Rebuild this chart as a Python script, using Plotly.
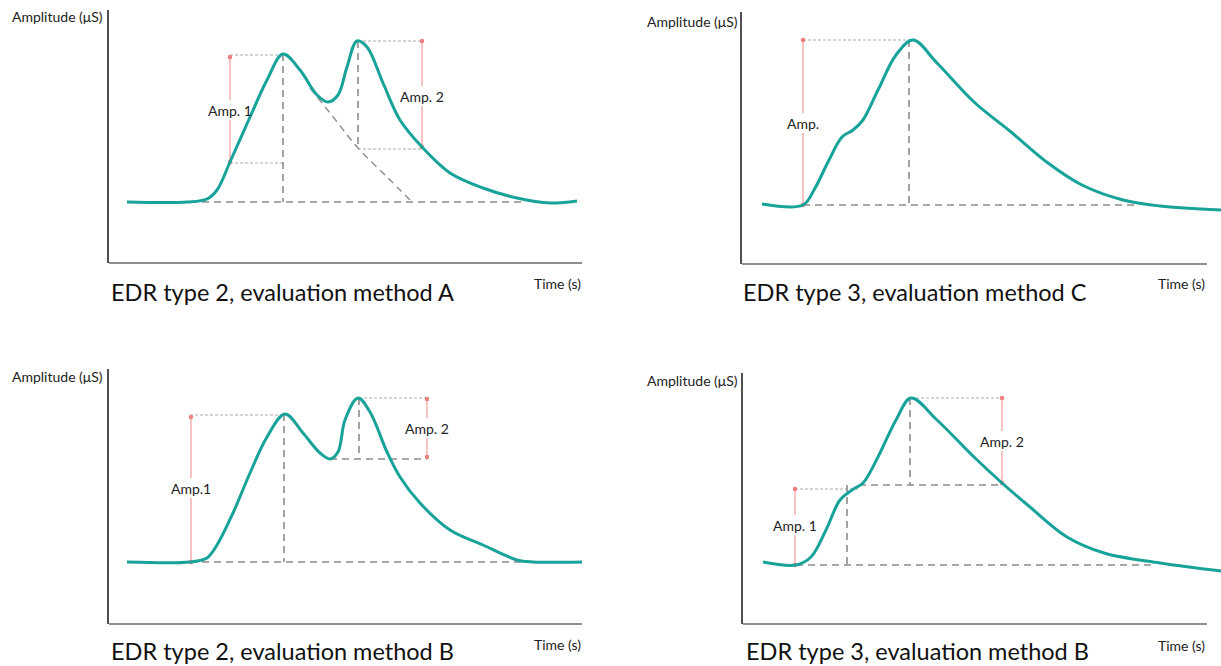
import plotly.graph_objects as go

# ---------------- data (panel-local units: time, amplitude) ----------------
# Panel 1: EDR type 2, method A
T1 = [18, 78, 98, 108, 121, 141, 158, 174, 191, 208, 219, 229, 238, 248, 258, 274, 291, 313, 341, 374, 408, 441, 468]
A1 = [61, 61, 64, 73, 101, 146, 183, 209, 193, 168, 161, 168, 196, 222, 216, 180, 143, 116, 90, 75, 65, 60, 62]
# Panel 2: EDR type 3, method C
T2 = [20, 61, 72, 87, 100, 111, 121, 136, 154, 171, 195, 232, 269, 306, 340, 381, 418, 479]
A2 = [60, 59, 74, 104, 127, 134, 144, 174, 209, 224, 201, 162, 132, 101, 79, 64, 58, 54]
# Panel 3: EDR type 2, method B
T3 = [18, 81, 98, 108, 124, 141, 158, 176, 194, 211, 221, 229, 236, 249, 261, 278, 291, 311, 341, 374, 408, 424, 473]
A3 = [62, 62, 66, 79, 111, 151, 187, 210, 191, 171, 165, 172, 204, 226, 212, 172, 147, 121, 94, 79, 64, 62, 62]
# Panel 4: EDR type 3, method B
T4 = [20, 53, 68, 83, 97, 109, 120, 135, 153, 168, 194, 231, 259, 287, 324, 361, 417, 478]
A4 = [62, 59, 67, 94, 124, 134, 141, 167, 204, 226, 204, 167, 141, 117, 87, 71, 61, 53]

# guide segments (t0, a0, t1, a1)
DASH1 = [(81, 61, 413, 61), (174, 209, 174, 61), (249, 222, 249, 114)]
DIAG1_T = [201, 225, 249, 278, 301]
DIAG1_A = [175, 145, 115, 86, 63]
DOT1 = [(121, 208, 174, 208), (121, 100, 174, 100), (249, 222, 313, 222), (249, 114, 313, 114)]
# amplitude bars: (t, a_top, a_bottom, a_label, label)
AMP1 = [(121, 206, 101, 153, "Amp. 1"), (313, 222, 116, 167, "Amp. 2")]

DASH2 = [(61, 59, 397, 59), (167, 224, 167, 59)]
DOT2 = [(61, 224, 171, 224)]
AMP2 = [(61, 224, 59, 141, "Amp.")]

DASH3 = [(81, 62, 431, 62), (175, 210, 175, 62), (250, 226, 250, 165), (221, 165, 318, 165)]
DOT3 = [(81, 209, 176, 209), (250, 226, 318, 226)]
AMP3 = [(82, 207, 62, 136, "Amp.1"), (318, 225, 167, 196, "Amp. 2")]

DASH4 = [(53, 59, 411, 59), (104, 139, 104, 59), (116, 139, 259, 139), (167, 226, 167, 139)]
DOT4 = [(52, 135, 116, 135), (168, 226, 259, 226)]
AMP4 = [(52, 135, 59, 99, "Amp. 1"), (259, 226, 141, 183, "Amp. 2")]

TITLES = ["EDR type 2, evaluation method A", "EDR type 3, evaluation method C",
          "EDR type 2, evaluation method B", "EDR type 3, evaluation method B"]
YLABEL = "Amplitude (μS)"
XLABEL = "Time (s)"

# ---------------- layout geometry (pixels) ----------------
W, H = 1221, 666
PANELS = [
    dict(x0=109, x1=582, xr=582, ytop=10, ybot=263, ylab=(10, 16), xlab=(583, 283), title=(109, 292)),
    dict(x0=742, x1=1207, xr=1221, ytop=12, ybot=264, ylab=(645, 21), xlab=(1207, 284), title=(741, 292)),
    dict(x0=109, x1=582, xr=582, ytop=369, ybot=624, ylab=(10, 377), xlab=(583, 644), title=(109, 651)),
    dict(x0=743, x1=1207, xr=1221, ytop=373, ybot=624, ylab=(645, 380), xlab=(1207, 645), title=(744, 651)),
]

def fx(x):
    return x / W

def fy(y):
    return 1 - y / H

TEAL = "#17A39A"
GREY = "#8c8c8c"
LIGHT = "#ababab"
RED = "#F5A3A3"
REDDOT = "#EE7F7F"
FONT = "Lato"
GAP = 10

fig = go.Figure()
layout = dict(width=W, height=H, margin=dict(l=0, r=0, t=0, b=0),
              paper_bgcolor="white", plot_bgcolor="white", showlegend=False)
shapes = []
annotations = []

curves = [(T1, A1), (T2, A2), (T3, A3), (T4, A4)]
dashes = [DASH1, DASH2, DASH3, DASH4]
dots = [DOT1, DOT2, DOT3, DOT4]
amps = [AMP1, AMP2, AMP3, AMP4]

for i, p in enumerate(PANELS):
    n = "" if i == 0 else str(i + 1)
    xa, ya = "x" + n, "y" + n
    layout["xaxis" + n] = dict(domain=[fx(p["x0"]), fx(p["xr"])], range=[0, p["xr"] - p["x0"]],
                               anchor=ya, showgrid=False, zeroline=False, showticklabels=False,
                               ticks="", showline=False, fixedrange=True)
    layout["yaxis" + n] = dict(domain=[fy(p["ybot"]), fy(p["ytop"])], range=[0, p["ybot"] - p["ytop"]],
                               anchor=xa, showgrid=False, zeroline=False, showticklabels=False,
                               ticks="", showline=True, linecolor="#505050", linewidth=1.5,
                               fixedrange=True)
    # x axis line
    shapes.append(dict(type="line", xref="paper", yref="paper",
                       x0=fx(p["x0"]), x1=fx(p["x1"]), y0=fy(p["ybot"]), y1=fy(p["ybot"]),
                       line=dict(color="#8f8f8f", width=2)))

    # thin dotted guides
    for (t0, a0, t1, a1) in dots[i]:
        fig.add_trace(go.Scatter(x=[t0, t1], y=[a0, a1], mode="lines", xaxis=xa, yaxis=ya,
                                 line=dict(color=LIGHT, width=1, dash="3px,2px"), hoverinfo="skip"))
    # dashed guides
    for (t0, a0, t1, a1) in dashes[i]:
        fig.add_trace(go.Scatter(x=[t0, t1], y=[a0, a1], mode="lines", xaxis=xa, yaxis=ya,
                                 line=dict(color=GREY, width=1.6, dash="7px,5px"), hoverinfo="skip"))
    if i == 0:
        fig.add_trace(go.Scatter(x=DIAG1_T, y=DIAG1_A, mode="lines", xaxis=xa, yaxis=ya,
                                 line=dict(color=GREY, width=1.4, dash="7px,5px", shape="spline"),
                                 hoverinfo="skip"))
    # red amplitude bars with a gap for the label
    for (t, atop, abot, alab, txt) in amps[i]:
        fig.add_trace(go.Scatter(x=[t, t, None, t, t], y=[atop, alab + GAP, None, alab - GAP, abot],
                                 mode="lines", xaxis=xa, yaxis=ya,
                                 line=dict(color=RED, width=1.3), hoverinfo="skip"))
        fig.add_trace(go.Scatter(x=[t, t], y=[atop, abot], mode="markers", xaxis=xa, yaxis=ya,
                                 marker=dict(color=REDDOT, size=4.5), hoverinfo="skip"))
        annotations.append(dict(x=t, y=alab, xref=xa, yref=ya, text=txt, showarrow=False,
                                font=dict(family=FONT, size=14, color="#222222"),
                                xanchor="center", yanchor="middle"))
    # curve
    t, a = curves[i]
    fig.add_trace(go.Scatter(x=t, y=a, mode="lines", xaxis=xa, yaxis=ya,
                             line=dict(color=TEAL, width=3, shape="spline", smoothing=1.0),
                             hoverinfo="skip"))
    # axis labels & titles
    annotations.append(dict(x=fx(p["ylab"][0]), y=fy(p["ylab"][1]), xref="paper", yref="paper",
                            text=YLABEL, showarrow=False, xanchor="left", yanchor="middle",
                            font=dict(family=FONT, size=14, color="#222222")))
    annotations.append(dict(x=fx(p["xlab"][0]), y=fy(p["xlab"][1]), xref="paper", yref="paper",
                            text=XLABEL, showarrow=False, xanchor="right", yanchor="middle",
                            font=dict(family=FONT, size=14, color="#222222")))
    annotations.append(dict(x=fx(p["title"][0]), y=fy(p["title"][1]), xref="paper", yref="paper",
                            text=TITLES[i], showarrow=False, xanchor="left", yanchor="middle",
                            font=dict(family=FONT, size=23.5, color="#111111")))

layout["shapes"] = shapes
layout["annotations"] = annotations
fig.update_layout(**layout)
fig.write_html("out.html", config={"displayModeBar": False})
